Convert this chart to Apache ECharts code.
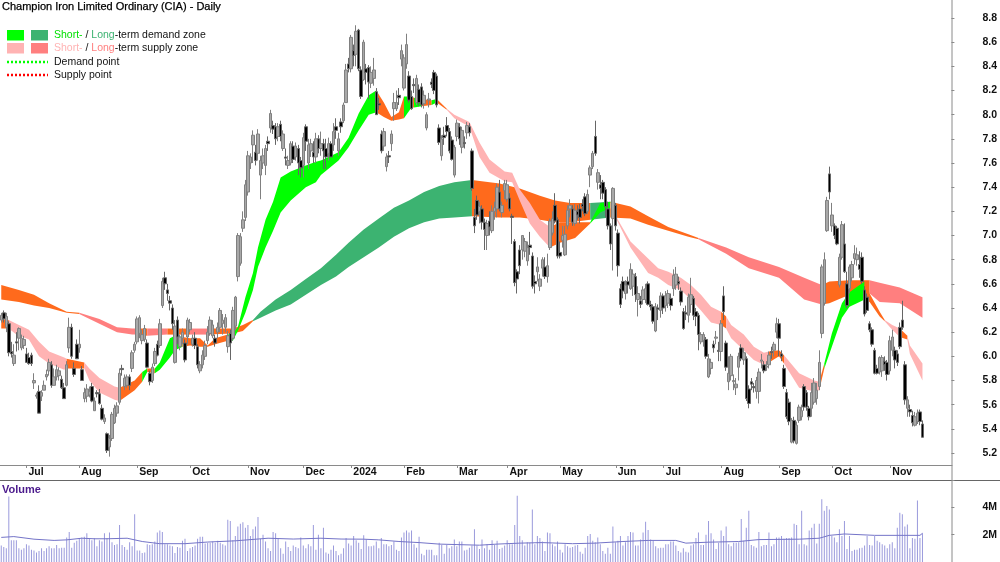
<!DOCTYPE html>
<html lang="en">
<head>
<meta charset="UTF-8">
<title>Champion Iron Limited Ordinary (CIA) - Daily</title>
<script src="https://cdn.jsdelivr.net/npm/echarts@6/dist/echarts.min.js"></script>
<style>
    html, body { margin: 0; padding: 0; background: #fff; }
    #chart { width: 1000px; height: 562px; }
</style>
</head>
<body>
<div id="chart"></div>
<script>
// month labels and the bar each month starts on
const monthLabels = ['Jul','Aug','Sep','Oct','Nov','Dec','2024','Feb','Mar','Apr','May','Jun','Jul','Aug','Sep','Oct','Nov'];
const monthBars = [10,31,54,75,98,120,139,160,181,201,222,244,263,286,309,330,353];

// daily bars: open, close, low, high
const ohlc = [
[6.30,6.34,6.28,6.36],[6.36,6.31,6.28,6.38],[6.24,6.33,6.20,6.36],[6.27,6.03,6.00,6.29],[6.04,6.02,5.99,6.12],
[5.94,6.01,5.92,6.10],[6.12,6.11,6.04,6.20],[6.15,6.23,6.05,6.24],[6.07,6.15,6.05,6.18],[6.09,6.14,6.06,6.17],
[6.02,5.95,5.95,6.07],[5.99,5.94,5.93,6.03],[6.01,5.94,5.92,6.03],[5.78,5.80,5.73,5.86],[5.67,5.68,5.65,5.70],
[5.71,5.53,5.53,5.76],[5.67,5.70,5.63,5.72],[5.72,5.76,5.72,5.80],[5.83,5.85,5.80,5.89],[5.88,5.95,5.84,5.98],
[5.93,5.76,5.74,5.96],[5.76,5.83,5.76,5.90],[5.83,5.89,5.80,5.93],[5.84,5.88,5.80,5.91],[5.81,5.74,5.73,5.84],
[5.74,5.65,5.65,5.78],[5.76,5.93,5.75,5.96],[6.07,6.24,6.03,6.32],[6.24,6.00,5.98,6.27],[5.90,5.85,5.83,5.95],
[6.10,5.98,5.98,6.14],[6.07,6.10,6.03,6.22],[5.89,5.80,5.80,5.92],[5.65,5.70,5.62,5.74],[5.67,5.73,5.62,5.77],
[5.68,5.71,5.66,5.75],[5.75,5.63,5.62,5.78],[5.55,5.63,5.55,5.66],[5.70,5.69,5.66,5.72],[5.69,5.61,5.60,5.73],
[5.57,5.48,5.47,5.60],[5.46,5.49,5.44,5.52],[5.36,5.22,5.20,5.37],[5.25,5.32,5.17,5.35],[5.32,5.52,5.30,5.54],
[5.45,5.57,5.44,5.60],[5.53,5.59,5.50,5.62],[5.62,5.86,5.60,5.90],[5.90,5.89,5.84,5.93],[5.75,5.82,5.72,5.85],
[5.76,5.83,5.74,5.85],[5.83,5.76,5.72,5.85],[5.90,6.03,5.87,6.05],[6.05,6.10,6.03,6.12],[6.12,6.31,6.10,6.33],
[6.19,6.32,6.15,6.34],[6.13,6.18,6.10,6.22],[6.14,6.23,6.12,6.26],[6.11,5.91,5.90,6.14],[5.86,5.79,5.76,5.88],
[5.80,5.91,5.78,5.94],[5.94,6.04,5.92,6.07],[6.10,6.01,6.00,6.13],[6.09,6.27,6.07,6.31],[6.42,6.62,6.40,6.65],
[6.65,6.60,6.55,6.70],[6.55,6.52,6.46,6.60],[6.46,6.44,6.38,6.50],[6.40,6.27,6.22,6.43],[5.95,6.25,5.94,6.30],
[6.30,6.16,6.10,6.33],[6.08,6.16,6.05,6.18],[6.15,6.20,6.10,6.23],[6.11,5.97,5.95,6.14],[6.16,6.30,6.10,6.32],
[6.22,6.28,6.20,6.31],[6.10,6.15,6.08,6.18],[6.15,6.09,6.06,6.20],[6.08,5.93,5.90,6.10],[5.88,5.93,5.86,5.96],
[5.93,6.01,5.90,6.05],[6.00,6.09,5.97,6.13],[6.13,6.20,6.10,6.25],[6.19,6.30,6.17,6.33],[6.17,6.26,6.15,6.30],
[6.15,6.11,6.08,6.18],[6.20,6.24,6.15,6.28],[6.24,6.38,6.20,6.40],[6.27,6.30,6.18,6.35],[6.24,6.32,6.20,6.35],
[6.08,6.17,6.03,6.21],[6.19,6.11,5.97,6.22],[6.15,6.38,6.13,6.41],[6.25,6.49,6.22,6.50],[6.66,7.00,6.62,7.02],
[6.77,6.99,6.75,7.02],[7.06,7.13,7.03,7.20],[7.15,7.42,7.12,7.46],[7.36,7.66,7.33,7.70],[7.60,7.65,7.55,7.68],
[7.75,7.83,7.60,7.87],[7.69,7.62,7.58,7.75],[7.68,7.84,7.62,7.88],[7.50,7.62,7.30,7.66],[7.60,7.66,7.55,7.72],
[7.58,7.72,7.50,7.75],[7.78,7.76,7.70,7.82],[7.89,8.01,7.85,8.04],[7.91,7.88,7.84,7.95],[7.90,7.80,7.75,7.93],
[7.82,7.90,7.78,7.93],[7.92,7.82,7.78,7.95],[7.72,7.84,7.70,7.87],[7.65,7.64,7.58,7.72],[7.58,7.62,7.55,7.66],
[7.60,7.76,7.58,7.78],[7.74,7.63,7.60,7.78],[7.65,7.74,7.62,7.77],[7.72,7.60,7.50,7.75],[7.62,7.56,7.48,7.65],
[7.58,7.81,7.48,7.85],[7.90,7.78,7.70,7.92],[7.60,7.75,7.55,7.80],[7.70,7.76,7.65,7.80],[7.69,7.65,7.60,7.78],
[7.65,7.80,7.60,7.85],[7.80,7.72,7.68,7.83],[7.72,7.76,7.66,7.86],[7.76,7.70,7.55,7.80],[7.72,7.65,7.55,7.80],
[7.68,7.76,7.62,7.81],[7.76,7.65,7.65,7.78],[7.75,7.86,7.70,7.93],[7.90,7.87,7.80,7.97],[7.70,7.80,7.66,7.85],
[7.94,7.90,7.85,7.97],[7.95,8.08,7.93,8.10],[8.10,8.37,8.10,8.42],[8.42,8.38,8.35,8.47],[8.38,8.64,8.35,8.66],
[8.53,8.49,8.40,8.58],[8.50,8.69,8.40,8.74],[8.70,8.38,8.36,8.71],[8.37,8.15,8.13,8.40],[8.29,8.60,8.28,8.62],
[8.38,8.35,8.25,8.42],[8.39,8.27,8.13,8.41],[8.26,8.35,8.22,8.40],[8.30,8.37,8.24,8.47],[8.19,8.00,8.00,8.22],
[8.09,8.08,8.04,8.14],[7.84,7.70,7.68,7.87],[7.74,7.86,7.70,7.89],[7.57,7.65,7.53,7.68],[7.66,7.65,7.60,7.70],
[7.76,7.84,7.70,7.87],[8.05,8.10,7.95,8.18],[8.05,8.10,8.03,8.20],[8.16,8.14,8.08,8.22],[8.46,8.53,8.40,8.58],
[8.22,8.47,8.20,8.50],[8.42,8.58,8.38,8.67],[8.32,8.12,8.10,8.36],[8.15,8.05,8.04,8.20],[8.25,8.24,8.18,8.30],
[8.10,8.30,8.08,8.33],[8.21,8.10,8.07,8.25],[8.23,8.08,8.06,8.26],[8.09,8.16,8.05,8.20],[7.89,8.00,7.87,8.02],
[8.12,8.13,8.06,8.18],[8.27,8.25,8.22,8.30],[8.35,8.20,8.17,8.37],[8.32,8.08,8.06,8.34],[7.89,7.77,7.75,7.92],
[7.66,7.80,7.62,7.83],[7.83,7.81,7.75,7.90],[7.91,7.86,7.82,7.98],[7.86,7.70,7.68,7.89],[7.79,7.63,7.62,7.82],
[7.50,7.73,7.48,7.75],[7.82,7.93,7.78,7.96],[7.90,7.80,7.75,7.93],[7.73,7.87,7.68,7.90],[7.77,7.76,7.72,7.82],
[7.85,7.91,7.80,7.94],[7.90,7.85,7.82,7.93],[7.70,7.39,7.37,7.72],[7.15,7.08,7.02,7.22],[7.29,7.17,7.13,7.33],
[7.20,7.24,7.10,7.28],[7.22,7.11,7.05,7.25],[7.11,7.05,6.88,7.14],[7.00,7.10,6.88,7.13],[7.12,7.07,7.00,7.20],
[7.04,7.20,7.02,7.25],[7.20,7.23,7.13,7.28],[7.22,7.40,7.15,7.43],[7.36,7.22,7.20,7.46],[7.19,7.25,7.15,7.28],
[7.37,7.43,7.30,7.46],[7.30,7.42,7.28,7.46],[7.31,7.22,7.20,7.35],[7.16,7.15,6.93,7.18],[6.95,6.61,6.58,6.97],
[6.70,6.64,6.52,6.72],[6.88,6.75,6.68,6.92],[6.88,7.00,6.80,7.00],[6.87,6.95,6.82,6.98],[6.79,6.90,6.75,6.95],
[6.92,6.90,6.84,7.03],[6.83,6.58,6.56,6.86],[6.62,6.60,6.52,6.67],[6.70,6.74,6.62,6.82],[6.58,6.64,6.54,6.68],
[6.73,6.80,6.66,6.82],[6.74,6.66,6.64,6.82],[6.66,6.75,6.61,6.85],[6.90,7.12,6.88,7.14],[7.02,7.14,7.00,7.20],
[7.25,7.12,7.10,7.35],[7.13,6.83,6.81,7.15],[6.86,6.83,6.81,6.95],[6.96,7.00,6.90,7.08],[6.84,7.01,6.83,7.08],
[7.08,7.21,7.05,7.25],[7.22,7.25,7.15,7.30],[7.22,7.11,7.08,7.25],[7.10,7.21,7.08,7.26],[7.20,7.17,7.13,7.25],
[7.22,7.15,7.10,7.26],[7.26,7.24,7.20,7.30],[7.32,7.18,7.16,7.35],[7.20,7.34,7.18,7.38],[7.50,7.56,7.40,7.58],
[7.57,7.68,7.55,7.70],[7.82,7.68,7.66,7.95],[7.44,7.52,7.38,7.55],[7.42,7.39,7.30,7.50],[7.44,7.35,7.30,7.46],
[7.38,7.24,7.15,7.40],[7.22,7.08,7.05,7.28],[7.08,6.93,6.88,7.10],[7.14,7.39,6.71,7.40],[7.25,7.08,7.04,7.27],
[7.02,6.75,6.66,7.05],[6.56,6.43,6.40,6.60],[6.62,6.54,6.48,6.66],[6.52,6.59,6.47,6.63],[6.62,6.59,6.52,6.66],
[6.56,6.72,6.55,6.77],[6.58,6.68,6.50,6.72],[6.66,6.51,6.45,6.69],[6.47,6.52,6.33,6.58],[6.46,6.43,6.40,6.50],
[6.47,6.55,6.43,6.58],[6.47,6.56,6.44,6.60],[6.60,6.43,6.42,6.62],[6.43,6.41,6.38,6.46],[6.41,6.29,6.27,6.43],
[6.21,6.41,6.20,6.44],[6.40,6.39,6.30,6.43],[6.38,6.50,6.32,6.53],[6.50,6.40,6.35,6.52],[6.42,6.50,6.37,6.54],
[6.44,6.52,6.40,6.55],[6.48,6.42,6.38,6.52],[6.56,6.67,6.50,6.72],[6.59,6.68,6.55,6.74],[6.62,6.60,6.55,6.66],
[6.54,6.45,6.42,6.57],[6.37,6.23,6.22,6.40],[6.36,6.35,6.30,6.42],[6.34,6.49,6.28,6.52],[6.43,6.51,6.36,6.65],
[6.48,6.34,6.30,6.50],[6.37,6.33,6.25,6.40],[6.34,6.18,6.05,6.36],[6.12,6.18,6.10,6.20],[6.13,6.18,6.08,6.20],
[6.14,6.00,5.98,6.16],[5.83,5.98,5.82,6.02],[5.90,5.95,5.85,5.98],[6.10,6.07,6.03,6.13],[6.15,6.16,6.10,6.21],
[6.05,6.04,5.96,6.12],[6.04,6.27,5.96,6.30],[6.50,6.37,6.30,6.58],[6.11,5.91,5.88,6.13],[5.79,5.86,5.72,6.00],
[5.84,6.00,5.80,6.02],[5.79,5.80,5.72,5.85],[5.74,5.77,5.68,5.82],[5.91,6.00,5.80,6.03],[6.07,5.98,5.96,6.10],
[5.97,6.03,5.93,6.07],[5.98,5.65,5.63,6.00],[5.73,5.61,5.57,5.76],[5.79,5.77,5.72,5.82],[5.75,5.74,5.70,5.78],
[5.71,5.80,5.65,5.83],[5.71,5.87,5.61,5.90],[5.96,5.97,5.90,6.02],[5.93,5.88,5.86,5.96],[5.91,5.92,5.88,5.96],
[5.93,6.01,5.90,6.04],[6.04,6.03,5.98,6.08],[6.05,6.10,6.00,6.12],[6.20,6.27,6.15,6.32],[6.27,6.15,6.00,6.31],
[6.02,6.00,5.96,6.05],[5.90,5.75,5.73,5.93],[5.70,5.50,5.48,5.73],[5.62,5.46,5.43,5.65],[5.29,5.47,5.28,5.49],
[5.47,5.30,5.28,5.50],[5.28,5.43,5.27,5.46],[5.47,5.58,5.45,5.60],[5.50,5.55,5.47,5.60],[5.75,5.58,5.55,5.77],
[5.70,5.58,5.55,5.72],[5.57,5.50,5.47,5.59],[5.57,5.70,5.50,5.78],[5.62,5.78,5.60,5.82],[5.65,5.72,5.60,5.78],
[5.75,5.95,5.72,6.05],[6.19,6.74,6.15,6.76],[6.44,6.80,6.42,6.86],[7.04,7.29,7.03,7.32],[7.51,7.36,7.30,7.57],
[7.08,7.17,7.03,7.27],[7.08,7.00,6.97,7.10],[7.06,6.93,6.92,7.08],[6.59,6.82,6.57,6.85],[6.82,7.09,6.80,7.12],
[6.93,6.70,6.69,7.10],[6.60,6.42,6.40,6.70],[6.56,6.74,6.52,6.76],[6.65,6.76,6.62,6.79],[6.81,6.85,6.76,6.92],
[6.80,6.84,6.75,6.90],[6.76,6.72,6.65,6.87],[6.82,6.62,6.60,6.86],[6.55,6.35,6.33,6.58],[6.49,6.38,6.36,6.52],
[6.27,6.22,6.20,6.29],[6.22,6.10,6.08,6.24],[6.05,5.86,5.85,6.07],[5.90,5.86,5.85,5.93],[5.87,5.99,5.85,6.00],
[5.88,5.99,5.83,6.01],[5.96,5.93,5.88,6.00],[5.95,5.85,5.80,5.97],[5.88,6.13,5.85,6.17],[6.05,6.16,6.00,6.22],
[6.05,5.97,5.90,6.08],[6.02,5.95,5.92,6.05],[6.24,6.08,6.06,6.28],[6.30,6.24,6.22,6.46],[5.93,5.64,5.60,5.96],
[5.57,5.64,5.50,5.67],[5.56,5.54,5.50,5.60],[5.51,5.45,5.42,5.55],[5.43,5.50,5.42,5.54],[5.46,5.53,5.44,5.56],
[5.54,5.46,5.43,5.56],[5.44,5.33,5.33,5.47]
];

// daily volume in millions
const volumes = [
1.2,1.1,1.0,4.8,1.6,1.6,1.6,1.0,0.9,1.0,
1.3,1.2,0.9,0.85,0.7,0.8,1.0,0.8,1.0,1.15,
1.0,1.0,1.25,1.0,1.05,1.05,1.8,2.2,1.05,1.4,
1.55,1.75,1.8,1.85,2.1,1.7,1.6,1.75,1.15,1.6,
1.5,2.1,1.75,2.15,1.45,1.25,1.3,2.7,1.25,1.1,
0.9,1.45,1.15,3.5,0.85,0.85,0.65,0.7,1.3,1.25,
1.3,1.5,2.15,2.3,2.2,1.3,1.3,1.2,1.15,0.65,
1.1,1.05,1.55,1.7,0.8,1.0,1.1,1.2,1.7,1.85,
1.85,1.35,1.4,1.4,1.5,1.4,1.55,1.4,1.3,1.2,
3.1,3.0,1.6,1.9,2.6,2.8,2.9,2.5,2.7,1.9,
2.4,2.6,3.3,1.7,2.0,1.5,1.0,0.8,2.2,2.1,
1.7,1.0,0.6,1.5,1.1,0.8,1.2,1.1,1.0,1.8,
1.2,1.0,1.3,1.15,2.7,0.9,2.0,1.0,2.5,0.7,
0.6,0.9,1.2,0.8,0.5,0.6,1.0,1.75,1.35,1.2,
1.9,1.6,1.4,0.95,1.95,1.65,1.15,1.15,1.2,1.5,
1.0,1.75,1.3,1.3,1.15,1.25,1.5,0.9,0.8,1.8,
2.15,2.3,2.15,2.3,1.3,1.05,1.85,0.6,0.5,0.9,
0.9,0.9,0.5,0.5,1.4,1.25,0.6,1.25,1.0,1.15,
1.65,1.15,1.5,1.5,0.85,0.9,1.05,1.2,2.4,1.2,
0.95,1.65,1.0,1.3,0.9,1.6,1.25,1.55,0.95,1.05,
1.2,1.6,1.3,1.3,2.7,4.85,1.9,1.6,1.2,1.45,
1.4,3.85,1.3,1.9,1.75,1.5,0.8,2.15,2.1,1.3,
1.15,1.5,0.9,0.7,1.3,1.15,1.05,1.1,1.2,1.25,
0.75,0.6,1.05,1.9,2.05,1.55,1.45,1.8,1.3,0.8,
0.6,1.05,0.6,2.6,1.45,1.55,1.9,1.2,1.45,1.9,
2.2,2.15,1.2,1.2,1.65,2.15,2.95,2.35,1.65,1.55,
1.15,1.0,1.05,1.05,1.3,1.3,1.5,1.5,1.2,0.8,
0.7,1.0,0.75,0.7,1.2,1.3,1.75,2.15,1.25,1.25,
2.0,3.0,2.1,1.65,0.95,1.4,2.3,1.9,2.6,1.3,
1.15,1.4,1.4,1.45,3.15,1.55,2.5,3.75,1.25,1.15,
1.05,2.2,1.15,1.25,1.25,2.15,1.15,1.3,1.8,1.8,
1.9,1.7,1.75,1.75,1.8,2.8,2.7,1.3,3.75,1.3,
1.2,2.3,2.5,2.8,1.35,2.8,4.6,3.75,4.1,3.85,
1.9,1.8,1.45,2.4,1.9,3.0,0.95,1.9,0.8,0.9,
0.9,1.0,1.05,1.2,1.9,1.25,1.2,1.9,1.55,1.45,
1.3,1.2,1.0,1.3,1.45,1.0,2.5,3.6,3.5,2.6,
2.75,1.0,1.75,1.7,4.5,1.75,2.1
];

// volume average line, read at these bars
const volAvgBars = [0,5,13,21,26,32,37,42,50,56,63,73,82,93,106,116,127,135,144,150,158,166,174,190,197,206,215,227,236,247,257,268,272,281,293,301,317,325,329,335,347,365,366];
const volAvg = [1.8,1.86,1.67,1.58,1.62,1.74,1.7,1.7,1.74,1.5,1.34,1.34,1.46,1.55,1.74,1.68,1.74,1.68,1.67,1.62,1.5,1.42,1.31,1.23,1.31,1.38,1.42,1.34,1.38,1.5,1.58,1.58,1.38,1.45,1.5,1.64,1.67,1.74,1.95,2.05,1.95,1.95,2.1];

// long-term zone edges; state colours the stretch up to the next sample
const longBars = [0,7,13,19,26,31,39,46,52,54,58,66,74,75,82,92,96,100,103,109,115,121,127,133,138,144,150,156,162,168,174,180,187,198,206,214,220,226,234,242,250,257,265,273,277,288,297,309,319,326,329,337,345,349,357,366];
const longUpper = [6.59,6.55,6.51,6.44,6.37,6.36,6.31,6.24,6.23,6.23,6.23,6.23,6.23,6.23,6.23,6.23,6.26,6.30,6.37,6.47,6.55,6.64,6.73,6.84,6.94,7.05,7.14,7.23,7.29,7.36,7.41,7.44,7.46,7.43,7.39,7.33,7.29,7.27,7.27,7.28,7.24,7.16,7.07,7.01,6.98,6.90,6.82,6.74,6.65,6.59,6.62,6.63,6.63,6.61,6.57,6.49];
const longLower = [6.47,6.45,6.42,6.40,6.36,6.35,6.27,6.20,6.18,6.18,6.17,6.18,6.18,6.18,6.18,6.19,6.21,6.29,6.32,6.38,6.43,6.51,6.59,6.66,6.74,6.82,6.90,6.99,7.06,7.11,7.14,7.15,7.16,7.15,7.15,7.13,7.11,7.11,7.13,7.15,7.14,7.09,7.04,6.99,6.97,6.85,6.73,6.65,6.47,6.43,6.44,6.51,6.52,6.45,6.44,6.32];
const longStates = ['O','O','O','O','O','S','S','S','S','O','S','O','O','S','O','O','O','D','D','D','D','D','D','D','D','D','D','D','D','D','D','D','O','O','O','O','O','O','D','O','O','O','O','O','S','S','S','S','S','O','O','O','S','S','S','S'];

// short-term zone edges
const shortBars = [
0,3,6,11,15,19,25,26,33,35,
39,45,47,53,56,58,61,63,67,69,
72,75,79,82,85,90,92,94,97,100,
102,105,108,111,115,121,125,127,134,138,142,146,149,
152,155,158,160,163,164,167,171,173,177,
180,186,190,194,200,203,206,210,214,218,
222,228,234,238,242,245,250,
257,261,265,270,274,278,282,286,288,290,295,299,303,305,309,311,
317,323,325,327,330,334,337,341,343,345,
349,351,354,357,360,361,366];
const shortUpper = [
6.31,6.30,6.27,6.22,6.12,6.04,5.99,5.98,5.95,5.90,
5.82,5.75,5.74,5.80,5.87,5.90,5.90,5.95,6.15,6.17,
6.16,6.15,6.15,6.09,6.15,6.18,6.19,6.24,6.49,6.69,
6.90,7.13,7.28,7.48,7.53,7.58,7.61,7.62,7.69,7.81,8.01,8.16,8.20,
8.10,7.98,8.02,8.15,8.15,8.14,8.13,8.12,8.13,8.05,
8.00,7.94,7.77,7.63,7.53,7.52,7.38,7.27,7.13,7.07,
7.11,7.11,7.11,7.27,7.28,7.13,6.95,
6.81,6.73,6.70,6.65,6.59,6.51,6.41,6.37,6.33,6.26,6.18,6.08,6.03,6.04,6.05,6.01,
5.86,5.80,5.79,5.94,6.19,6.44,6.53,6.59,6.62,6.52,
6.37,6.30,6.26,6.23,6.17,6.09,5.94];
const shortLower = [
6.23,6.23,6.18,6.14,6.00,5.94,5.89,5.90,5.90,5.80,
5.70,5.64,5.63,5.72,5.79,5.87,5.86,5.89,5.99,6.05,
6.08,6.09,6.08,6.08,6.10,6.13,6.13,6.21,6.36,6.55,
6.74,6.90,7.04,7.19,7.29,7.40,7.44,7.50,7.62,7.73,7.87,8.00,8.02,
7.98,7.95,7.96,7.97,8.06,8.06,8.07,8.08,8.10,8.04,
7.97,7.90,7.65,7.52,7.45,7.44,7.29,7.10,6.99,6.90,
6.94,6.98,7.10,7.19,7.23,7.11,6.90,
6.69,6.65,6.59,6.55,6.47,6.38,6.28,6.26,6.23,6.15,6.05,5.97,5.93,5.95,6.00,5.94,
5.74,5.71,5.72,5.90,6.08,6.32,6.41,6.45,6.47,6.45,
6.33,6.29,6.22,6.16,6.14,6.02,5.80];
const shortStates = [
'O','S','S','S','S','S','S','O','S','S',
'S','S','O','O','D','O','D','D','D','D',
'O','O','O','O','O','D','D','D','D','D',
'D','D','D','D','D','D','D','D','D','D','D','D','O',
'O','O','O','D','O','D','O','D','O','S',
'S','S','S','S','S','S','S','S','S','O',
'O','O','D','D','S','S','S',
'S','S','S','S','S','S','S','O','S','S','S','S','S','O','O','S',
'S','S','O','D','D','D','D','D','O','O',
'O','S','S','O','S','S','S'];

const shortColors = { D: '#00ff00', S: '#ffb3b3', O: '#ff6a1c' };
const longColors = { D: '#3cb371', S: '#ff7f7f', O: '#ff6a1c' };

// room for 367 bars plus the empty stretch before the price axis
const barLabels = new Array(378).fill('');
monthBars.forEach((b, i) => { barLabels[b] = monthLabels[i]; });
const isMonth = (idx, val) => val !== '';

// one polygon for each run of samples with the same state
function zoneSeries(bars, upper, lower, states, colors, z) {
    const runs = [];
    let start = 0;
    for (let i = 1; i < bars.length; i++) {
        if (i === bars.length - 1 || states[i] !== states[start]) {
            runs.push([start, i, states[start]]);
            start = i;
        }
    }
    return {
        type: 'custom',
        xAxisIndex: 0,
        yAxisIndex: 0,
        z: z,
        silent: true,
        clip: false,
        encode: { x: 0, y: [1, 2] },
        data: runs.map(r => [bars[r[0]], upper[r[0]], lower[r[0]]]),
        renderItem: function (params, api) {
            const run = runs[params.dataIndex];
            const points = [];
            for (let i = run[0]; i <= run[1]; i++) points.push(api.coord([bars[i], upper[i]]));
            for (let i = run[1]; i >= run[0]; i--) points.push(api.coord([bars[i], lower[i]]));
            return {
                type: 'polygon',
                shape: { points: points },
                style: { fill: colors[run[2]] }
            };
        }
    };
}

const FONT = '"Liberation Sans", Arial, sans-serif';

function legendBox(x, y, fill) {
    return { type: 'rect', shape: { x: x, y: y, width: 17, height: 10.5 }, style: { fill: fill } };
}
function legendDots(y, stroke) {
    return { type: 'line', shape: { x1: 7, y1: y, x2: 48, y2: y }, style: { stroke: stroke, lineWidth: 2.5, lineDash: [2, 2] } };
}
function legendText(y, text, rich) {
    return { type: 'text', x: 54, y: y, style: { text: text, rich: rich, font: '10.5px ' + FONT, fill: '#111', verticalAlign: 'middle' } };
}

const chart = echarts.init(document.getElementById('chart'));
chart.setOption({
    animation: false,
    backgroundColor: '#fff',
    grid: [
        { left: 0, width: 952, top: 18, height: 435 },
        { left: 0, width: 952, top: 465, height: 15 },
        { left: 0, width: 952, top: 480, height: 84.9 }
    ],
    xAxis: [
        { type: 'category', gridIndex: 0, data: barLabels, show: false },
        {
            type: 'category', gridIndex: 1, data: barLabels, position: 'top',
            axisLine: { show: true, onZero: false, lineStyle: { color: '#8a8a8a', width: 1 } },
            axisTick: { show: true, inside: true, length: 3, alignWithLabel: true, interval: isMonth, lineStyle: { color: '#8a8a8a' } },
            axisLabel: {
                show: true, inside: true, interval: isMonth, align: 'left', margin: 2, padding: [0, 0, 0, 2],
                color: '#111', fontFamily: FONT, fontWeight: 'bold', fontSize: 10.5, hideOverlap: false
            }
        },
        { type: 'category', gridIndex: 2, data: barLabels, show: false }
    ],
    yAxis: [
        {
            type: 'value', gridIndex: 0, position: 'right', min: 5.2, max: 8.8, interval: 0.2,
            splitLine: { show: false },
            axisLine: { show: false },
            axisTick: { show: true, length: 3, lineStyle: { color: '#8a8a8a' } },
            axisLabel: { margin: 31, padding: [3, 0, 0, 0], color: '#111', fontFamily: FONT, fontWeight: 'bold', fontSize: 10.5, formatter: v => v.toFixed(1) }
        },
        { type: 'value', gridIndex: 1, show: false, min: 0, max: 1 },
        {
            type: 'value', gridIndex: 2, position: 'right', min: 0, max: 6, interval: 2,
            splitLine: { show: false },
            axisLine: { show: false },
            axisTick: { show: true, length: 3, lineStyle: { color: '#8a8a8a' } },
            axisLabel: {
                margin: 31, padding: [3, 0, 0, 0], color: '#111', fontFamily: FONT, fontWeight: 'bold', fontSize: 10.5,
                formatter: v => (v === 2 || v === 4) ? v + 'M' : ''
            }
        }
    ],
    series: [
        zoneSeries(longBars, longUpper, longLower, longStates, longColors, 1),
        zoneSeries(shortBars, shortUpper, shortLower, shortStates, shortColors, 2),
        {
            type: 'candlestick',
            xAxisIndex: 0,
            yAxisIndex: 0,
            z: 3,
            clip: false,
            barWidth: 3,
            data: ohlc,
            itemStyle: { color: '#a8a8a8', color0: '#000', borderColor: '#808080', borderColor0: '#666', borderWidth: 1 }
        },
        {
            type: 'bar',
            xAxisIndex: 2,
            yAxisIndex: 2,
            barWidth: 1,
            data: volumes,
            itemStyle: { color: '#9a9adc' }
        },
        {
            type: 'line',
            xAxisIndex: 2,
            yAxisIndex: 2,
            z: 4,
            showSymbol: false,
            lineStyle: { color: '#7474c8', width: 1 },
            data: volAvgBars.map((b, i) => [b, volAvg[i]])
        }
    ],
    graphic: [
        { type: 'line', shape: { x1: 952, y1: 0, x2: 952, y2: 562 }, style: { stroke: '#8a8a8a', lineWidth: 1 } },
        { type: 'line', shape: { x1: 0, y1: 480.5, x2: 1000, y2: 480.5 }, style: { stroke: '#666', lineWidth: 1 } },
        { type: 'text', x: 2, y: 7, style: { text: 'Champion Iron Limited Ordinary (CIA) - Daily', font: '11px ' + FONT, fill: '#000', stroke: '#000', lineWidth: 0.25, verticalAlign: 'middle' } },
        legendBox(7, 30, '#00ff00'),
        legendBox(31, 30, '#3cb371'),
        legendBox(7, 43, '#ffb3b3'),
        legendBox(31, 43, '#ff7f7f'),
        legendDots(62, '#00ff00'),
        legendDots(75, '#ff0000'),
        legendText(35, '{a|Short-} / {b|Long}-term demand zone', {
            a: { fill: '#00e000', font: '10.5px ' + FONT },
            b: { fill: '#3cb371', font: '10.5px ' + FONT }
        }),
        legendText(48, '{a|Short-} / {b|Long}-term supply zone', {
            a: { fill: '#ffb3b3', font: '10.5px ' + FONT },
            b: { fill: '#ff7f7f', font: '10.5px ' + FONT }
        }),
        legendText(62, 'Demand point'),
        legendText(75, 'Supply point'),
        { type: 'text', x: 2, y: 490, style: { text: 'Volume', font: 'bold 11px ' + FONT, fill: '#4b1a8c', verticalAlign: 'middle' } }
    ]
});
</script>
</body>
</html>
